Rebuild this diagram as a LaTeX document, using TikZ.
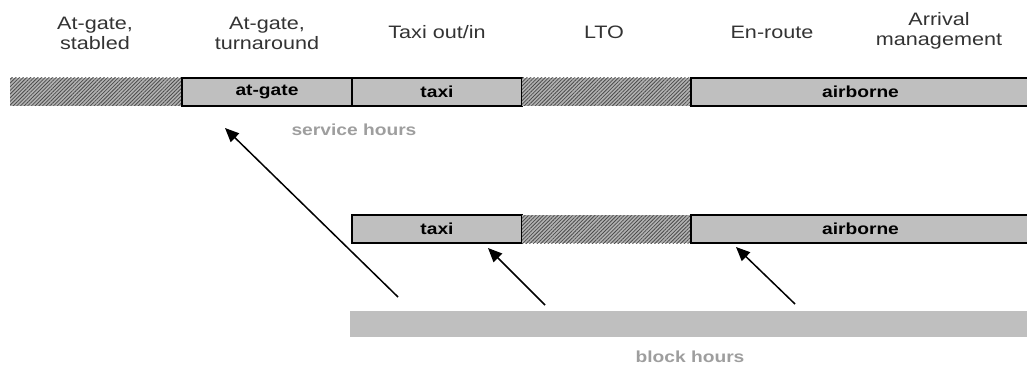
\documentclass[tikz,border=0pt]{standalone}
\usepackage{fontspec}
\setmainfont{Liberation Sans}[FakeStretch=1.2]
\usetikzlibrary{positioning,patterns.meta,arrows.meta}

\tikzset{
	seg/.style={draw, line width=1pt, fill=black!25, minimum height=14pt,
		inner sep=0pt, outer sep=0pt, font=\fontsize{8}{8}\selectfont\bfseries},
	hatch/.style={minimum height=14pt, inner sep=0pt, outer sep=0pt,
		preaction={fill=black!30},
		pattern={Lines[angle=45,distance=1.3pt,line width=0.4pt]}, pattern color=black!70},
	head/.style={align=center, font=\fontsize{9}{10}\selectfont, text=black!80},
	hrs/.style={font=\fontsize{8}{8}\selectfont\bfseries, text=black!38},
	arr/.style={-{Triangle[length=7pt,width=6pt]}, line width=0.75pt}
}

\begin{document}
\begin{tikzpicture}[x=0.5pt, y=-0.5pt]
	\clip (0,0) rectangle (1027,369);
	
	% phase headings
	\node[head] (stabledh) at (95,33) {At-gate,\\stabled};
	\node[head] (turnh) at (267,33) {At-gate,\\turnaround};
	\node[head] (taxih) at (437,32) {Taxi out/in};
	\node[head] (ltoh) at (604,32) {LTO};
	\node[head] (enrouteh) at (772,32) {En-route};
	\node[head] (arrivalh) at (939,31) {Arrival\\management};
	
	% service hours
	\node[hatch, minimum width=86pt, anchor=west] (stabled) at (10,92) {};
	\node[seg, minimum width=85pt, right=0pt of stabled] (gate) {at-gate};
	\node[seg, minimum width=85pt, right=0pt of gate] (taxitop) {taxi};
	\node[hatch, minimum width=84.5pt, right=0pt of taxitop] (ltotop) {};
	\node[seg, minimum width=169.5pt, right=0pt of ltotop] (airtop) {airborne};
	\node[hrs] (service) at (354,130) {service hours};
	
	% block hours
	\node[seg, minimum width=85pt, anchor=west] (taxilow) at (352,229) {taxi};
	\node[hatch, minimum width=84.5pt, right=0pt of taxilow] (ltolow) {};
	\node[seg, minimum width=169.5pt, right=0pt of ltolow] (airlow) {airborne};
	\node[fill=black!25, minimum width=340pt, minimum height=13pt, inner sep=0pt,
		anchor=north west] (blockbar) at (350,311) {};
	\node[hrs] (blockhrs) at (690,357) {block hours};
	
	\coordinate (gatefoot) at (398,297);
	\coordinate (gatetip) at (225,128);
	\coordinate (taxifoot) at (545,305);
	\coordinate (taxitip) at (488,248);
	\coordinate (airfoot) at (795,304);
	\coordinate (airtip) at (736,247);
	
	\draw[arr] (gatefoot) -- (gatetip);
	\draw[arr] (taxifoot) -- (taxitip);
	\draw[arr] (airfoot) -- (airtip);
\end{tikzpicture}
\end{document}
